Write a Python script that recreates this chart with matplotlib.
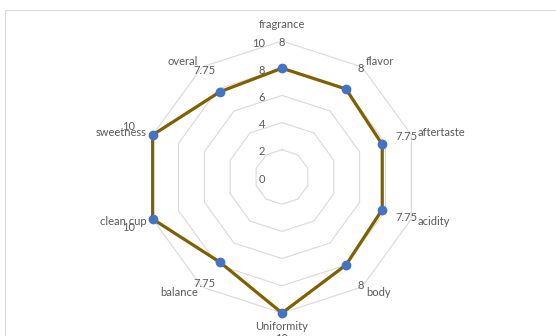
import numpy as np
import matplotlib
matplotlib.use("Agg")
import matplotlib.pyplot as plt
from matplotlib.patches import Rectangle

# cupping scores
categories = ["fragrance", "flavor", "aftertaste", "acidity", "body",
              "Uniformity", "balance", "clean cup", "sweetness", "overal"]
scores = [8, 8, 7.75, 7.75, 8, 10, 7.75, 10, 10, 7.75]
ring_ticks = [0, 2, 4, 6, 8, 10]

TEXT = "#595959"
GRID = "#D9D9D9"
LINE = "#7F6000"
MARK = "#4472C4"
FS = 8

plt.rcParams["font.family"] = ["Lato", "DejaVu Sans"]

W, H = 556, 336
fig = plt.figure(figsize=(W / 100, H / 100), dpi=100)

# chart area border
fig.patches.append(Rectangle((5 / W, -0.2), 1.2, 1.2 - 10 / H,
                             transform=fig.transFigure, fill=False,
                             edgecolor=GRID, linewidth=0.8))

cx, cy, rad = 282, 177, 136
ax = fig.add_axes([(cx - rad) / W, (H - cy - rad) / H, 2 * rad / W, 2 * rad / H],
                  projection="polar")
ax.set_theta_zero_location("N")
ax.set_theta_direction(-1)
ax.set_ylim(0, 10)
ax.grid(False)
ax.set_xticks([])
ax.set_yticks([])
ax.spines["polar"].set_visible(False)
ax.patch.set_alpha(0)

n = len(categories)
theta = np.arange(n) * 2 * np.pi / n
closed = np.append(theta, theta[0])

# decagon rings
for r in ring_ticks[1:]:
    ax.plot(closed, [r] * (n + 1), color=GRID, lw=0.8, zorder=1)

# radial tick labels left of the top axis
for r in ring_ticks:
    ax.annotate(str(r), xy=(0, r), xytext=(-12, -1.5), textcoords="offset points",
                ha="right", va="center", fontsize=FS, color=TEXT,
                annotation_clip=False)

vals = np.append(scores, scores[0])
ax.plot(closed, vals, color=LINE, lw=2.3, zorder=3, clip_on=False)
ax.plot(theta, scores, "o", color=MARK, ms=6, zorder=4, clip_on=False)

# category labels around the outer ring
for t, name in zip(theta, categories):
    deg = np.degrees(t)
    if deg == 0:
        ax.text(t, 11.2, name, ha="center", va="center", fontsize=FS, color=TEXT)
    elif deg == 180:
        ax.text(t, 11.0, name, ha="center", va="center", fontsize=FS, color=TEXT)
    elif deg < 180:
        ax.text(t, 10.5, name, ha="left", va="center", fontsize=FS, color=TEXT)
    else:
        ax.text(t, 10.5, name, ha="right", va="center", fontsize=FS, color=TEXT)

# value labels
for t, v in zip(theta, scores):
    ax.text(t, v + 1.9, "%g" % v, ha="center", va="center", fontsize=FS,
            color=TEXT, clip_on=False)

fig.savefig("out.png", dpi=100, facecolor="white")
